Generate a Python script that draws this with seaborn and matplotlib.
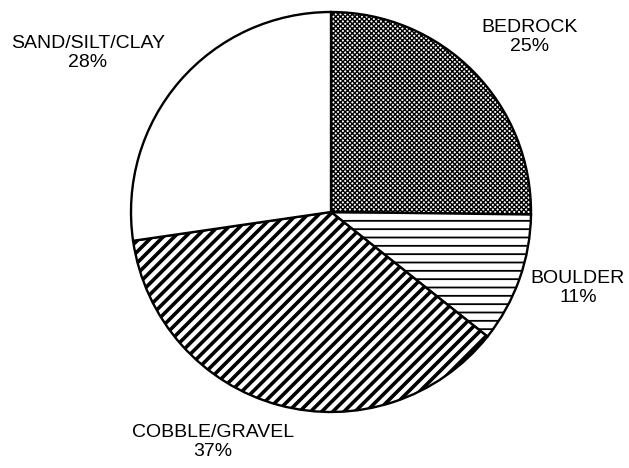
import seaborn as sns
import matplotlib.pyplot as plt

# substrate composition, clockwise from 12 o'clock
categories = ["BEDROCK", "BOULDER", "COBBLE/GRAVEL", "SAND/SILT/CLAY"]
shares = [25.2, 10.5, 37.0, 27.3]
pct_labels = ["25%", "11%", "37%", "28%"]
hatches = ["xxxxxxx", "--", "///", ""]
hatch_lw = [1.0, 1.3, 2.6, 1.0]

# label centres, in pie-radius units from the pie centre
label_x = [0.995, 1.235, -0.59, -1.215]
label_y = [0.875, -0.38, -1.15, 0.795]

sns.set_theme(style="white")
plt.rcParams["font.family"] = ["Liberation Sans", "DejaVu Sans"]
plt.rcParams["hatch.linewidth"] = 1.5

fig = plt.figure(figsize=(6.29, 4.68), dpi=100)
ax = fig.add_axes([0, 0, 1, 1])

wedges, _ = ax.pie(shares, startangle=90, counterclock=False,
                   colors=["white"] * len(shares),
                   wedgeprops=dict(edgecolor="black", linewidth=1.7))
for w, h, lw in zip(wedges, hatches, hatch_lw):
    w.set_hatch(h)
    if hasattr(w, "set_hatch_linewidth"):
        w.set_hatch_linewidth(lw)

for name, pct, x, y in zip(categories, pct_labels, label_x, label_y):
    ax.text(x, y, f"{name}\n{pct}", ha="center", va="center",
            fontsize=14, color="black", linespacing=1.2)

ax.set_xlim(-1.655, 1.49)
ax.set_ylim(-1.28, 1.06)
ax.set_aspect("equal")
ax.axis("off")

fig.savefig("out.png", dpi=100)
